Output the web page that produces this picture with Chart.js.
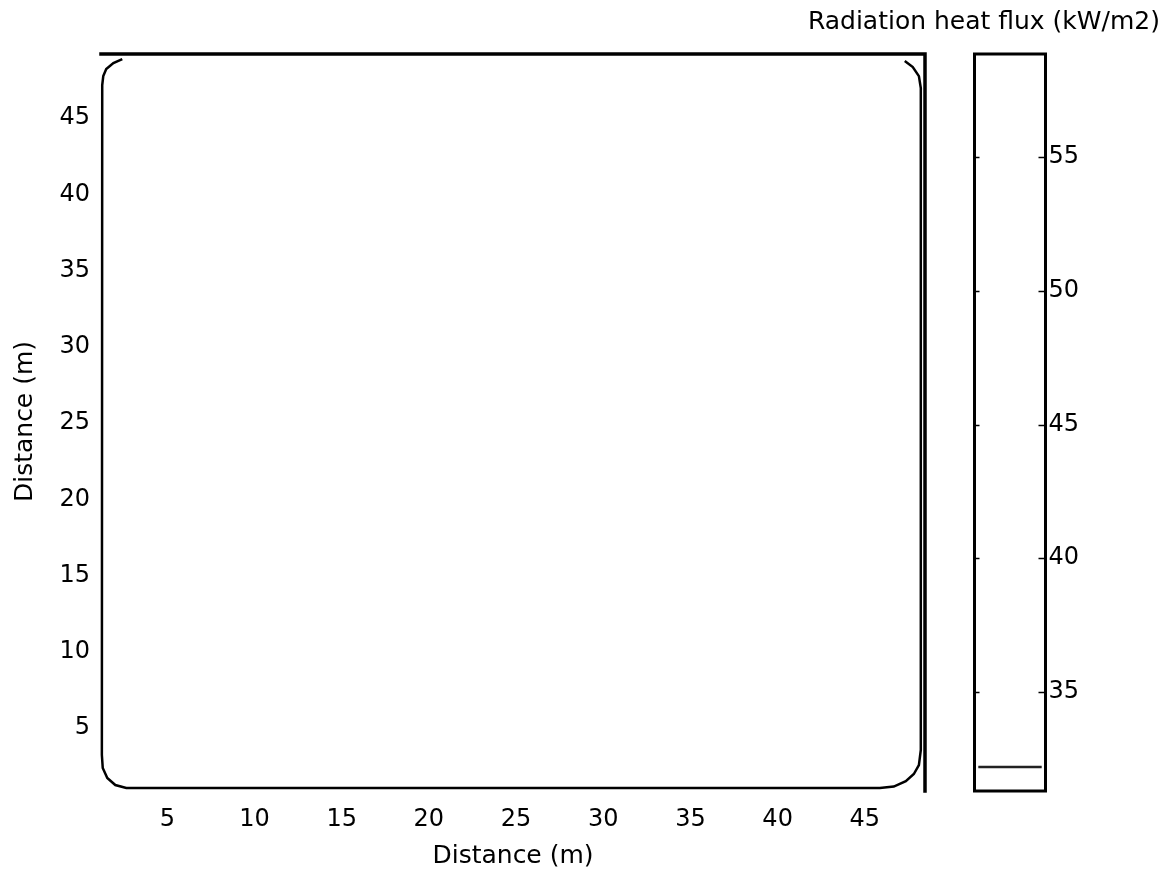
<!DOCTYPE html>
<html><head><meta charset="utf-8">
<script src="https://cdn.jsdelivr.net/npm/chart.js@4.4.1/dist/chart.umd.min.js"></script>
<style>
html,body{margin:0;padding:0;background:#fff;}
#wrap{position:relative;width:1173px;height:874px;overflow:hidden;background:#fff;}
canvas{position:absolute;top:0;}
#main{left:0;}
#cbar{left:760px;}
</style></head><body>
<div id="wrap"><canvas id="main" width="960" height="874"></canvas><canvas id="cbar" width="413" height="874"></canvas></div>
<script>
// ---- data ----
const xTicks = [5, 10, 15, 20, 25, 30, 35, 40, 45];
const yTicks = [5, 10, 15, 20, 25, 30, 35, 40, 45];
const xRange = [1.2, 48.45];
const yRange = [1.0, 49.2];
const xTitle = 'Distance (m)';
const yTitle = 'Distance (m)';
// contour line (level ~32.2 kW/m2)
const contourX = [2.42, 1.91, 1.50, 1.33, 1.27, 1.25, 1.30, 1.56, 2.02, 2.65, 45.86, 46.66, 47.35, 47.81, 48.10, 48.21, 48.21, 48.10, 47.75, 47.29];
const contourY = [48.87, 48.61, 48.21, 47.75, 47.16, 3.23, 2.38, 1.72, 1.26, 1.07, 1.07, 1.16, 1.52, 1.98, 2.57, 3.56, 46.97, 47.75, 48.34, 48.74];
// colorbar
const cbTitle = 'Radiation heat flux (kW/m2)';
const cbTicks = [35, 40, 45, 50, 55];
const cbRange = [31.3, 58.85];
const levelValues = [32.2];
const levelSpan = [0, 1];

Chart.defaults.font.family = "'DejaVu Sans', sans-serif";
Chart.defaults.color = '#000';
Chart.defaults.animation = false;

const setTicks = arr => axis => { axis.ticks = arr.map(v => ({ value: v })); };

const mainFrame = {
  id: 'mainFrame',
  afterDatasetsDraw(chart) {
    const { ctx, chartArea: a } = chart;
    ctx.save();
    ctx.strokeStyle = '#000';
    ctx.lineWidth = 3.5;
    ctx.lineCap = 'square';
    ctx.beginPath();
    ctx.moveTo(a.left, a.top);
    ctx.lineTo(a.right, a.top);
    ctx.lineTo(a.right, a.bottom + 2);
    ctx.stroke();
    ctx.restore();
  }
};

new Chart(document.getElementById('main'), {
  type: 'scatter',
  data: {
    datasets: [{
      data: contourX.map((x, i) => ({ x, y: contourY[i] })),
      showLine: true,
      borderColor: '#000',
      borderWidth: 2.5,
      pointRadius: 0,
      tension: 0,
      clip: 6
    }]
  },
  options: {
    responsive: false,
    devicePixelRatio: 1,
    layout: { padding: { left: 0, top: 54, right: 35, bottom: 0 } },
    plugins: { legend: { display: false }, tooltip: { enabled: false } },
    scales: {
      x: {
        type: 'linear', min: xRange[0], max: xRange[1],
        afterBuildTicks: setTicks(xTicks),
        afterFit: s => { s.height = 85; },
        grid: { display: false, drawTicks: false },
        border: { display: false },
        ticks: { font: { size: 24 }, padding: 16, maxRotation: 0, autoSkip: false },
        title: { display: true, text: xTitle, font: { size: 25 }, padding: { top: 0, bottom: 3 } }
      },
      y: {
        type: 'linear', min: yRange[0], max: yRange[1],
        afterBuildTicks: setTicks(yTicks),
        afterFit: s => { s.width = 101; },
        grid: { display: false, drawTicks: false },
        border: { display: false },
        ticks: { font: { size: 24 }, padding: 11, autoSkip: false },
        title: { display: true, text: yTitle, font: { size: 25 }, padding: { top: 10, bottom: 0 } }
      }
    }
  },
  plugins: [mainFrame]
});

const cbFrame = {
  id: 'cbFrame',
  afterDatasetsDraw(chart) {
    const { ctx, chartArea: a } = chart;
    const ys = chart.scales.y;
    ctx.save();
    ctx.strokeStyle = '#000';
    ctx.lineWidth = 1.5;
    cbTicks.forEach(v => {
      const py = Math.round(ys.getPixelForValue(v)) + 0.5;
      ctx.beginPath();
      ctx.moveTo(a.left, py); ctx.lineTo(a.left + 5, py);
      ctx.moveTo(a.right, py); ctx.lineTo(a.right - 7, py);
      ctx.stroke();
    });
    ctx.lineWidth = 3;
    ctx.strokeRect(a.left, a.top, a.right - a.left, a.bottom - a.top);
    ctx.restore();
  }
};

new Chart(document.getElementById('cbar'), {
  type: 'scatter',
  data: {
    datasets: levelValues.map(v => ({
      data: levelSpan.map(x => ({ x, y: v })),
      showLine: true,
      borderColor: '#222',
      borderWidth: 2.5,
      pointRadius: 0
    }))
  },
  options: {
    responsive: false,
    devicePixelRatio: 1,
    layout: { padding: { left: 0, top: 0, right: 13, bottom: 83 } },
    plugins: {
      legend: { display: false }, tooltip: { enabled: false },
      title: { display: true, text: cbTitle, align: 'end', color: '#000', font: { size: 25, weight: 'normal' }, padding: { top: 7, bottom: 17 } }
    },
    scales: {
      x: { type: 'linear', min: -0.06, max: 1.06, display: false },
      yLeft: {
        type: 'linear', position: 'left', min: cbRange[0], max: cbRange[1],
        afterFit: s => { s.width = 214.5; },
        grid: { display: false, drawTicks: false },
        border: { display: false },
        ticks: { display: false }
      },
      y: {
        type: 'linear', position: 'right', min: cbRange[0], max: cbRange[1],
        afterBuildTicks: setTicks(cbTicks),
        afterFit: s => { s.width = 114.5; },
        grid: { display: false, drawTicks: false },
        border: { display: false },
        ticks: { font: { size: 24 }, padding: 3, autoSkip: false }
      }
    }
  },
  plugins: [cbFrame]
});
</script>
</body></html>
